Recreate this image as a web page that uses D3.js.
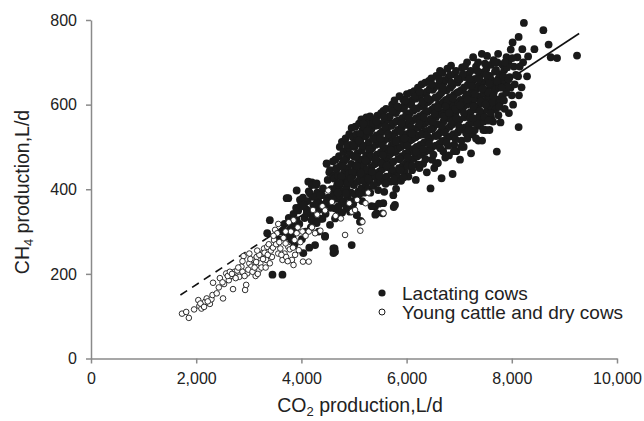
<!DOCTYPE html>
<html><head><meta charset="utf-8">
<script src="https://cdn.jsdelivr.net/npm/d3@7"></script>
<style>body{margin:0;background:#fff}svg{display:block}text{font-family:"Liberation Sans",Arial,sans-serif;fill:#222}</style>
</head><body><svg id="c" width="644" height="421"></svg>
<script>
const xTicks = [0,2000,4000,6000,8000,10000];
const yTicks = [0,200,400,600,800];
const seriesNames = ["Lactating cows","Young cattle and dry cows"];
const fitDashed = [[1700,150],[3330,283]];
const fitSolid = [[3330,283],[9280,768]];
const youngCattle = [[1730,106],[1810,110],[1860,96],[1960,116],[2040,138],[2060,124],[2100,118],[2130,126],[2170,134],[2200,142],[2260,129],[2290,140],[2320,179],[2310,150],[2390,154],[2430,168],[2510,142],[2530,176],[2570,201],[2620,185],[2660,195],[2700,164],[2730,205],[2780,208],[2820,193],[2860,217],[2900,242],[2930,162],[2950,174],[2970,201],[3010,225],[3010,248],[3050,217],[3090,233],[3130,195],[3150,240],[3190,209],[3220,225],[3250,248],[3290,260],[3330,233],[3350,264],[3400,225],[3440,240],[3480,280],[3500,304],[3540,296],[3560,248],[3600,260],[3640,233],[3680,248],[3710,240],[3750,264],[3820,233],[3850,221],[3850,327],[3870,280],[3910,296],[3950,256],[4030,229],[4140,229],[4140,300],[4220,351],[4260,296],[4360,302],[4510,397],[4650,337],[4750,331],[4830,292],[4910,367],[4960,347],[5020,351],[5060,375],[5120,302],[5160,323],[5220,367],[5270,392],[5560,343],
[2080,130],[2150,122],[2220,135],[2600,195],[2640,205],[2680,200],[2750,190],[2800,215],[2880,205],[2920,195],[2990,210],[3030,235],[3070,205],[3110,215],[3140,228],[3170,200],[3200,245],[3240,215],[3270,235],[3300,250],[3360,245],[3380,270],[3420,255],[3460,262],[3520,270],[3580,275],[3620,245],[3660,285],[3700,272],[3740,230],[3780,258],[3800,300],[3840,262],[3880,245],[3930,310],[3980,275],[4020,300],[4080,290],[4200,310],[4300,340],[4400,360],[4450,350],[4580,370],[2450,190],[2500,180],[2880,230],[3160,255],[3320,215],[3470,290],[3560,318],[3700,300],[3760,322]];
const lactatingCows = [[3350,296],[3400,327],[3450,198],[3640,198],[3560,282],[3620,300],[3680,318],[3720,379],[3760,332],[3790,305],[3830,292],[3850,342],[3880,302],[3900,356],[3910,397],[3940,350],[3960,318],[3990,362],[4010,282],[4030,380],[4060,332],[4080,300],[4100,352],[4120,372],[4140,395],[4170,342],[4200,416],[4215,382],[4230,362],[4250,330],[4260,268],[4280,410],[4300,392],[4320,372],[4340,352],[4360,330],[4390,386],[4410,402],[4430,362],[4450,290],[4460,342],[4480,460],[4500,422],[4510,380],[4530,440],[4550,356],[4570,400],[4600,466],[4610,249],[4630,260],[4600,432],[4590,375],[4640,382],[4660,450],[4680,410],[4700,350],[3740,290],[3870,270],[4050,360],[4180,310],[4330,300],[4400,330],
[3751,379],[3973,375],[4036,363],[4131,418],[4196,410],[4290,414],[4163,390],[4259,382],[4354,386],[4290,367],[4385,359],[4480,371],[4480,461],[4544,445],[4607,430],[4607,390],[4702,379],[4766,367],[3783,323],[3846,312],[3910,327],[3656,304],[3720,288],[3815,280],[4100,343],[4195,327],[4290,320],[4544,316],[4639,331],[4734,343],[4449,288],[4861,355],[4924,347],[5051,339],[5114,323],[4607,260],[4639,252],[4956,268],[4036,249],[4150,262],[5399,359],[5557,367],[5747,386],[5779,363],[5431,343],
[4635,355],[4665,378],[4650,402],[4625,425],[4670,447],[4645,470],
[4705,360],[4735,385],[4720,408],[4695,432],[4740,455],[4715,478],[4730,500],
[4775,345],[4805,372],[4790,395],[4765,418],[4810,440],[4785,462],[4800,488],[4770,512],
[4845,362],[4875,383],[4860,405],[4835,428],[4880,450],[4855,473],[4870,496],[4840,520],
[4915,352],[4945,392],[4930,415],[4905,437],[4950,460],[4925,483],[4940,505],[4910,530],[4955,545],
[4985,365],[5015,388],[5000,410],[4975,432],[5020,455],[4995,478],[5010,500],[4980,523],[5025,548],
[5055,340],[5085,395],[5070,418],[5045,440],[5090,462],[5065,485],[5080,508],[5050,530],[5095,555],
[5125,325],[5155,372],[5140,402],[5115,425],[5160,447],[5135,470],[5150,492],[5120,515],[5165,540],[5140,565],
[5195,392],[5225,412],[5210,435],[5185,457],[5230,480],[5205,502],[5220,525],[5190,548],[5235,570],
[5265,400],[5295,420],[5280,443],[5255,466],[5300,488],[5275,510],[5290,533],[5260,556],[5305,572],
[5335,360],[5365,408],[5350,430],[5325,452],[5370,475],[5345,497],[5360,520],[5330,542],[5375,565],
[5405,340],[5435,415],[5420,438],[5395,460],[5440,482],[5415,505],[5430,527],[5400,550],[5445,574],
[5475,366],[5505,420],[5490,442],[5465,465],[5510,487],[5485,510],[5500,532],[5470,555],[5515,580],
[5545,343],[5575,394],[5560,425],[5535,447],[5580,470],[5555,492],[5570,515],[5540,537],[5585,560],[5560,585],
[5615,430],[5645,452],[5630,475],[5605,497],[5650,520],[5625,542],[5640,565],[5610,590],
[5685,418],[5715,438],[5700,460],[5675,482],[5720,505],[5695,527],[5710,550],[5680,572],[5725,600],
[5755,358],[5785,418],[5770,442],[5745,465],[5790,488],[5765,510],[5780,533],[5750,556],[5795,580],[5770,610],
[5825,430],[5855,450],[5840,472],[5815,495],[5860,518],[5835,540],[5850,563],[5820,586],[5865,620],
[5895,420],[5925,455],[5910,478],[5885,500],[5930,523],[5905,545],[5920,568],[5890,592],[5935,612],
[5965,440],[5995,462],[5980,485],[5955,507],[6000,530],[5975,552],[5990,575],[5960,598],[6005,625],
[6035,430],[6065,468],[6050,490],[6025,512],[6070,535],[6045,558],[6060,580],[6030,603],[6075,628],
[6105,445],[6135,472],[6120,495],[6095,518],[6140,540],[6115,563],[6130,586],[6100,610],[6145,632],
[6175,422],[6205,478],[6190,500],[6165,523],[6210,546],[6185,568],[6200,591],[6170,614],[6215,640],
[6245,450],[6275,482],[6260,505],[6235,528],[6280,550],[6255,573],[6270,596],[6240,620],[6285,648],
[6315,460],[6345,488],[6330,510],[6305,533],[6350,556],[6325,578],[6340,601],[6310,625],[6355,652],
[6385,440],[6415,492],[6400,515],[6375,538],[6420,560],[6395,583],[6410,606],[6380,630],[6425,656],
[6455,402],[6485,470],[6470,498],[6445,520],[6490,543],[6465,566],[6480,588],[6450,611],[6495,635],[6470,662],
[6525,450],[6555,503],[6540,526],[6515,548],[6560,571],[6535,594],[6550,617],[6520,640],[6565,668],
[6595,462],[6625,508],[6610,531],[6585,554],[6630,577],[6605,600],[6620,622],[6590,645],[6635,680],
[6665,426],[6695,490],[6680,514],[6655,537],[6700,560],[6675,582],[6690,605],[6660,628],[6705,652],[6680,675],
[6735,475],[6765,520],[6750,542],[6725,565],[6770,588],[6745,611],[6760,634],[6730,658],[6775,685],
[6805,480],[6835,525],[6820,548],[6795,571],[6840,594],[6815,617],[6830,640],[6800,665],[6845,692],
[6875,436],[6905,505],[6890,530],[6865,553],[6910,576],[6885,600],[6900,623],[6870,646],[6915,672],
[6945,490],[6975,535],[6960,558],[6935,582],[6980,605],[6955,628],[6970,652],[6940,680],
[7015,470],[7045,515],[7030,541],[7005,564],[7050,588],[7025,611],[7040,634],[7010,660],[7055,688],
[7085,500],[7115,546],[7100,570],[7075,594],[7120,617],[7095,641],[7110,665],
[7155,520],[7185,552],[7170,576],[7145,600],[7190,623],[7165,647],[7180,672],[7150,700],
[7225,485],[7255,530],[7240,558],[7215,582],[7260,606],[7235,630],[7250,654],[7220,680],[7265,712],
[7295,540],[7325,565],[7310,589],[7285,613],[7330,637],[7305,661],[7320,690],
[7365,515],[7395,550],[7380,572],[7355,596],[7400,620],[7375,644],[7390,668],[7360,700],
[7435,515],[7465,560],[7450,580],[7425,603],[7470,627],[7445,651],[7460,676],[7430,720],
[7505,540],[7535,588],[7520,611],[7495,635],[7540,659],[7515,684],[7530,715],
[7575,540],[7605,570],[7590,596],[7565,620],[7610,644],[7585,668],[7600,694],
[7645,560],[7675,605],[7660,630],[7635,653],[7680,678],[7655,705],
[7715,489],[7745,575],[7730,612],[7705,638],[7750,662],[7725,700],[7740,720],
[7785,558],[7815,620],[7800,648],[7775,672],[7820,695],
[7865,590],[7895,628],[7880,655],[7855,682],[7900,712],
[7945,580],[7975,640],[7960,665],[7935,700],[7980,730],
[8025,600],[8055,648],[8040,690],[8015,747],
[8130,547],[8135,622],[8120,667],[8105,712],[8130,760],
[8185,641],[8215,700],[8200,731],[8230,793],
[8290,667],[8310,714],
[8430,731],[8600,776],[8700,742],[8740,712],[8860,710],[9240,716],
[4690,392],[4760,430],[4820,468],[4880,415],[4900,498],[4960,372],[4970,441],[5030,476],[5040,512],[5100,388],[5110,531],[5180,420],[5170,503],[5240,446],[5250,538],[5310,392],[5320,478],[5380,519],[5390,431],[5450,551],[5460,398],[5520,461],[5530,506],[5600,413],[5590,548],[5660,489],[5670,572],[5720,447],[5730,523],[5800,401],[5810,561],[5870,471],[5880,537],[5940,428],[5950,590],[6010,503],[6020,455],[6080,547],[6090,599],[6150,486],[6160,620],[6220,458],[6230,563],[6290,529],[6300,607],[6360,471],[6370,585],[6430,507],[6440,637],[6500,559],[6510,482],[6570,616],[6580,526],[6640,497],[6650,643],[6710,572],[6720,535],[6780,609],[6790,503],[6850,652],[6860,561],[6920,589],[6930,518],[6990,630],[7000,548],[7060,605],[7070,672],[7130,533],[7140,624],[7200,661],[7210,568],[7270,595],[7280,640],[7340,556],[7350,679],[7410,607],[7420,654],[7480,571],[7490,697],[7550,629],[7560,562],[7620,657],[7630,605],[7690,589],[7700,682],[7760,641],[7770,604],[7840,667],[7850,610],[7920,643],[7910,688],[8000,622],[8080,670],[8150,690],
[4720,415],[4780,455],[4850,390],[4870,505],[4940,425],[4990,505],[5050,455],[5090,515],[5130,438],[5180,555],[5220,468],[5270,425],[5290,495],[5340,442],[5360,556],[5410,471],[5430,560],[5480,432],[5500,520],[5550,481],[5570,570],[5620,455],[5650,530],[5700,493],[5730,585],[5760,425],[5800,513],[5830,596],[5880,445],[5900,555],[5960,520],[5980,610],[6020,475],[6040,568],[6100,532],[6110,455],[6170,590],[6190,488],[6240,555],[6250,630],[6310,495],[6330,570],[6390,528],[6400,615],[6460,542],[6480,648],[6530,579],[6560,460],[6600,593],[6620,660],[6670,550],[6690,640],[6740,596],[6760,510],[6810,580],[6830,670],[6880,615],[6900,490],[6950,568],[6970,662],[7020,598],[7040,500],[7090,580],[7110,690],[7160,612],[7180,540],[7230,644],[7260,568],[7300,625],[7320,520],[7370,660],[7390,585],[7440,638],[7460,540],[7500,600],[7520,670],[7570,650],[7600,580],[7650,620],[7680,700],[7720,655],[7760,595],[7810,640],[7870,700],[7940,660],[8010,710]];

const svg = d3.select("#c");
const x = d3.scaleLinear().domain([0,10000]).range([91,617]);
const y = d3.scaleLinear().domain([0,800]).range([358.5,20]);
const axisColor = "#8a8a8a";

const gx = svg.append("g").attr("transform","translate(0,358.5)")
  .call(d3.axisBottom(x).tickValues(xTicks).tickFormat(d3.format(",")).tickSize(5).tickSizeOuter(0).tickPadding(9));
const gy = svg.append("g").attr("transform","translate(91,0)")
  .call(d3.axisLeft(y).tickValues(yTicks).tickSize(5).tickSizeOuter(0).tickPadding(9));
[gx,gy].forEach(g=>{
  g.select(".domain").attr("stroke",axisColor).attr("stroke-width",1.5);
  g.selectAll(".tick line").attr("stroke",axisColor).attr("stroke-width",1.5);
  g.selectAll(".tick text").attr("font-size",16).attr("fill","#222").attr("font-family","'Liberation Sans',Arial,sans-serif");
});

const line = d3.line().x(d=>x(d[0])).y(d=>y(d[1]));
svg.append("path").attr("d",line(fitDashed)).attr("fill","none").attr("stroke","#111").attr("stroke-width",1.6).attr("stroke-dasharray","8,6");
svg.append("path").attr("d",line(fitSolid)).attr("fill","none").attr("stroke","#111").attr("stroke-width",1.6);

svg.append("g").selectAll("circle").data(lactatingCows).join("circle")
  .attr("cx",d=>x(d[0])).attr("cy",d=>y(d[1])).attr("r",3.9).attr("fill","#1a1a1a");
svg.append("g").selectAll("circle").data(youngCattle).join("circle")
  .attr("cx",d=>x(d[0])).attr("cy",d=>y(d[1])).attr("r",2.8).attr("fill","#fff").attr("stroke","#1a1a1a").attr("stroke-width",0.9);

// legend
const lg = svg.append("g");
lg.append("circle").attr("cx",382).attr("cy",293).attr("r",3.6).attr("fill","#1a1a1a");
lg.append("circle").attr("cx",382).attr("cy",312).attr("r",3).attr("fill","#fff").attr("stroke","#1a1a1a").attr("stroke-width",1);
lg.append("text").attr("x",402).attr("y",299.5).attr("font-size",19).text(seriesNames[0]);
lg.append("text").attr("x",402).attr("y",318.5).attr("font-size",19).text(seriesNames[1]);

// axis titles
const xt = svg.append("text").attr("x",360).attr("y",412).attr("text-anchor","middle").attr("font-size",19.5);
xt.append("tspan").text("CO");
xt.append("tspan").attr("font-size",13).attr("dy",4).text("2");
xt.append("tspan").attr("dy",-4).text(" production,L/d");
const yt = svg.append("text").attr("transform","translate(29,192) rotate(-90)").attr("text-anchor","middle").attr("font-size",19.5);
yt.append("tspan").text("CH");
yt.append("tspan").attr("font-size",13).attr("dy",4).text("4");
yt.append("tspan").attr("dy",-4).text(" production,L/d");
</script></body></html>
